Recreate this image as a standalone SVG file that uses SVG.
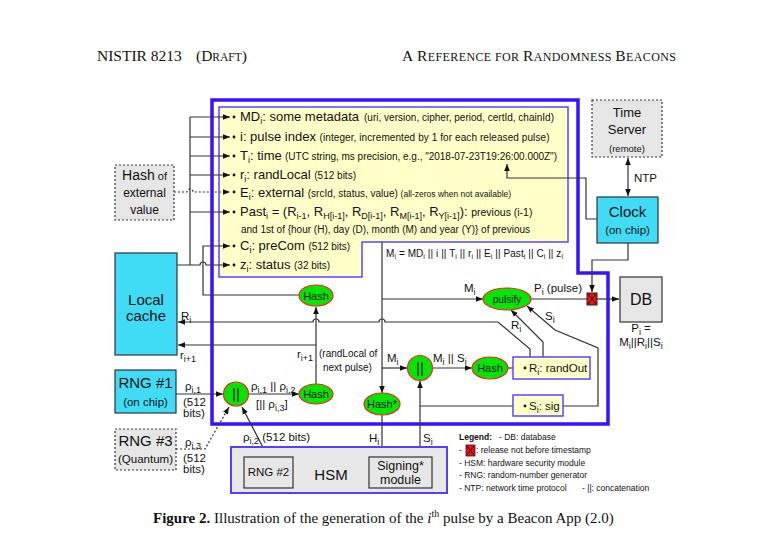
<svg xmlns="http://www.w3.org/2000/svg" width="777" height="551" viewBox="0 0 777 551">
<style>
text{font-family:"Liberation Sans",Arial,sans-serif;fill:#111}
.serif{font-family:"Liberation Serif","Times New Roman",serif}
.t13{font-size:13px}.t10{font-size:10px}.t9{font-size:8.5px}.t11{font-size:11.5px}
.sb{font-size:9px}
.mid{text-anchor:middle}
.ln{fill:none;stroke:#333;stroke-width:1.2}
.dot{stroke-dasharray:2 2}
.arr{marker-end:url(#ah)}
.cyan{fill:#40dcf6;stroke:#333;stroke-width:1.2}
.gray{fill:#e6e6e6;stroke:#333;stroke-width:1.2}
.dgray{fill:#e6e6e6;stroke:#333;stroke-width:1.2;stroke-dasharray:2 2}
.grn{fill:#00e600;stroke:#ff2020;stroke-width:1.2}
.yb{fill:#ffffc8;stroke:#5b46ff;stroke-width:1.5}
</style>
<defs>
<marker id="ah" viewBox="0 0 10 10" refX="10" refY="5" markerWidth="7" markerHeight="7" markerUnits="userSpaceOnUse" orient="auto-start-reverse"><path d="M0,1 L10,5 L0,9 z" fill="#111"/></marker>
</defs>
<rect width="777" height="551" fill="#fff"/>

<g id="header">
<text class="serif" x="97" y="61" font-size="15.5">NISTIR 8213</text>
<text class="serif" x="196" y="61" font-size="15.5">(D<tspan font-size="11.5">RAFT</tspan>)</text>
<text class="serif" x="402" y="61" font-size="15.5" textLength="274" lengthAdjust="spacing">A R<tspan font-size="12">EFERENCE FOR </tspan>R<tspan font-size="12">ANDOMNESS </tspan>B<tspan font-size="12">EACONS</tspan></text>
</g>

<g id="frame">
<path d="M212,100 H578 V273 H608 V424 H212 Z" fill="none" stroke="#3b10ff" stroke-width="3.5"/>
</g>

<g id="pulse-fields">
<path class="yb" d="M219,107 H568 V242 H362 V277 H219 Z" stroke-width="1"/>
<g fill="#111">
<circle cx="234" cy="117" r="1.4"/><circle cx="234" cy="137" r="1.4"/><circle cx="234" cy="156" r="1.4"/><circle cx="234" cy="175" r="1.4"/><circle cx="234" cy="192" r="1.4"/><circle cx="234" cy="212" r="1.4"/><circle cx="234" cy="246" r="1.4"/><circle cx="234" cy="265" r="1.4"/>
</g>
<text class="t13" x="240" y="121">MD<tspan class="sb" dy="3">i</tspan><tspan dy="-3">: some metadata </tspan><tspan class="t10" x="364" textLength="190">(uri, version, cipher, period, certId, chainId)</tspan></text>
<text class="t13" x="240" y="141">i: pulse index <tspan class="t10" textLength="230">(integer, incremented by 1 for each released pulse)</tspan></text>
<text class="t13" x="240" y="160">T<tspan class="sb" dy="3">i</tspan><tspan dy="-3">: time </tspan><tspan class="t10" x="285" textLength="272">(UTC string, ms precision, e.g., "2018-07-23T19:26:00.000Z")</tspan></text>
<text class="t13" x="240" y="179">r<tspan class="sb" dy="3">i</tspan><tspan dy="-3">: randLocal </tspan><tspan class="t10">(512 bits)</tspan></text>
<text class="t13" x="240" y="197">E<tspan class="sb" dy="3">i</tspan><tspan dy="-3">: external </tspan><tspan class="t10">(srcId, status, value) </tspan><tspan class="t9">(all-zeros when not available)</tspan></text>
<text class="t13" x="240" y="216">Past<tspan class="sb" dy="3">i</tspan><tspan dy="-3"> = (R</tspan><tspan class="sb" dy="3">i-1</tspan><tspan dy="-3">, R</tspan><tspan class="sb" dy="3">H[i-1]</tspan><tspan dy="-3">, R</tspan><tspan class="sb" dy="3">D[i-1]</tspan><tspan dy="-3">, R</tspan><tspan class="sb" dy="3">M[i-1]</tspan><tspan dy="-3">, R</tspan><tspan class="sb" dy="3">Y[i-1]</tspan><tspan dy="-3">): </tspan><tspan font-size="10.5">previous (i-1)</tspan></text>
<text class="t10" x="241" y="233">and 1st of {hour (H), day (D), month (M) and year (Y)} of previous</text>
<text class="t13" x="240" y="250">C<tspan class="sb" dy="3">i</tspan><tspan dy="-3">: preCom </tspan><tspan class="t10">(512 bits)</tspan></text>
<text class="t13" x="240" y="269">z<tspan class="sb" dy="3">i</tspan><tspan dy="-3">: status </tspan><tspan class="t10">(32 bits)</tspan></text>
</g>

<g id="connectors">
<path class="ln" d="M190,117 V265"/>
<path class="ln arr" d="M190,117 H230"/>
<path class="ln arr" d="M190,137 H230"/>
<path class="ln arr" d="M190,156 H230"/>
<path class="ln arr" d="M190,175 H230"/>
<path class="ln arr" d="M190,212 H230"/>
<path class="ln arr" d="M177,265 H200 a3,3 0 0 1 6,0 H230"/>
<path class="ln arr" d="M299,295 H203 V246 H230"/>
<path class="ln dot arr" d="M174,192 H187 a3,3 0 0 1 6,0 H230"/>
<path class="ln arr" d="M597,219 H586 V178 H507 V164"/>
<path class="ln arr" d="M628,158 V196" marker-start="url(#ah)"/>
<path class="ln arr" d="M628,243 V260 H592 V292"/>
<path class="ln" d="M531,299 H587"/>
<path class="ln arr" d="M597,299 H619"/>
<path class="ln arr" d="M382,242 V393"/>
<path class="ln arr" d="M382,299 H483"/>
<path class="ln arr" d="M382,368 H407"/>
<path class="ln arr" d="M432.5,368 H472"/>
<path class="ln arr" d="M508,368 H521"/>
<path class="ln arr" d="M382,415 V457"/>
<path class="ln arr" d="M420,457 V381"/>
<path class="ln arr" d="M420,406 H521"/>
<path class="ln arr" d="M563,406 H598 V348 L555,330 L527,306"/>
<path class="ln arr" d="M543,357 V342 L511,310"/>
<path class="ln arr" d="M530,357 V349 L498,322 H385 a3,3 0 0 0 -6,0 H319 a3,3 0 0 0 -6,0 H178"/>
<path class="ln arr" d="M316,384 V307"/>
<path class="ln arr" d="M316,345 H178"/>
<path class="ln arr" d="M176,394 H223"/>
<path class="ln arr" d="M248.5,394 H299"/>
<path class="ln dot arr" d="M176,449 H205 L229,407"/>
<path class="ln arr" d="M268,457 L242,407"/>
</g>

<g id="connector-labels">
<text x="386" y="257" style="font-size:10px" textLength="177">M<tspan style="font-size:7px" dy="2">i</tspan><tspan dy="-2"> = MD</tspan><tspan style="font-size:7px" dy="2">i</tspan><tspan dy="-2"> || i || T</tspan><tspan style="font-size:7px" dy="2">i</tspan><tspan dy="-2"> || r</tspan><tspan style="font-size:7px" dy="2">i</tspan><tspan dy="-2"> || E</tspan><tspan style="font-size:7px" dy="2">i</tspan><tspan dy="-2"> || Past</tspan><tspan style="font-size:7px" dy="2">i</tspan><tspan dy="-2"> || C</tspan><tspan style="font-size:7px" dy="2">i</tspan><tspan dy="-2"> || z</tspan><tspan style="font-size:7px" dy="2">i</tspan></text>
<text class="t11" x="464" y="292">M<tspan class="sb" dy="3">i</tspan></text>
<text class="t11" x="534" y="292">P<tspan class="sb" dy="3">i</tspan><tspan dy="-3"> (pulse)</tspan></text>
<text class="t11" x="511" y="329">R<tspan class="sb" dy="3">i</tspan></text>
<text class="t11" x="545" y="320">S<tspan class="sb" dy="3">i</tspan></text>
<text class="t11" x="387" y="362">M<tspan class="sb" dy="3">i</tspan></text>
<text class="t11" x="433" y="362">M<tspan class="sb" dy="3">i</tspan><tspan dy="-3"> || S</tspan><tspan class="sb" dy="3">i</tspan></text>
<text class="t11" x="181" y="320">R<tspan class="sb" dy="3">i</tspan></text>
<text class="t11" x="180" y="359">r<tspan class="sb" dy="3">i+1</tspan></text>
<text class="t11" x="297" y="358">r<tspan class="sb" dy="3">i+1</tspan></text>
<text class="t10" x="319" y="357">(randLocal of</text>
<text class="t10" x="323" y="371">next pulse)</text>
<text class="t11" x="185" y="390">ρ<tspan class="sb" dy="3">i,1</tspan></text>
<text class="t11" x="183" y="406">(512</text>
<text class="t11" x="183" y="417">bits)</text>
<text class="t11" x="185" y="446">ρ<tspan class="sb" dy="3">i,3</tspan></text>
<text class="t11" x="183" y="462">(512</text>
<text class="t11" x="183" y="473">bits)</text>
<text class="t11" x="251" y="390">ρ<tspan class="sb" dy="3">i,1</tspan><tspan dy="-3"> || ρ</tspan><tspan class="sb" dy="3">i,2</tspan></text>
<text class="t11" x="256" y="408">[|| ρ<tspan class="sb" dy="3">i,3</tspan><tspan dy="-3">]</tspan></text>
<text class="t11" x="243" y="441">ρ<tspan class="sb" dy="3">i,2</tspan><tspan dy="-3"> (512 bits)</tspan></text>
<text class="t11" x="369" y="442">H<tspan class="sb" dy="3">i</tspan></text>
<text class="t11" x="423" y="442">S<tspan class="sb" dy="3">i</tspan></text>
<text class="t11" x="634" y="182">NTP</text>
</g>

<g id="hash-external">
<rect class="dgray" x="115" y="165" width="59" height="55"/>
<text class="mid" x="144.5" y="180" font-size="14">Hash<tspan font-size="11"> of</tspan></text>
<text class="mid" x="144.5" y="197" font-size="12">external</text>
<text class="mid" x="144.5" y="214" font-size="12">value</text>
</g>

<g id="local-cache">
<rect class="cyan" x="115" y="253" width="62" height="102"/>
<text class="mid" x="146" y="304.5" font-size="15">Local</text>
<text class="mid" x="146" y="321" font-size="15">cache</text>
</g>

<g id="time-server">
<rect class="dgray" x="592" y="100" width="70" height="57"/>
<text class="mid" x="627" y="117" font-size="13">Time</text>
<text class="mid" x="627" y="134" font-size="13">Server</text>
<text class="mid" x="627" y="152" font-size="9.5">(remote)</text>
</g>

<g id="clock">
<rect class="cyan" x="597" y="197" width="61" height="46"/>
<text class="mid" x="627.5" y="216.5" font-size="15">Clock</text>
<text class="mid" x="627.5" y="234" font-size="11.5">(on chip)</text>
</g>

<g id="hash1">
<ellipse class="grn" cx="316" cy="295.5" rx="17" ry="10.5"/>
<text class="mid" x="316" y="299.5" font-size="11">Hash</text>
</g>

<g id="pulsify">
<ellipse class="grn" cx="507" cy="299" rx="24" ry="11"/>
<text class="mid" x="507" y="302.5" font-size="10">pulsify</text>
</g>

<g id="release-gate">
<rect x="587" y="293" width="10" height="12" fill="#ee1111" stroke="#222" stroke-width="1"/>
<path d="M588,294 L596,304 M596,294 L588,304" stroke="#111" stroke-width="1"/>
</g>

<g id="db">
<rect class="gray" x="620" y="277" width="42" height="45"/>
<text class="mid" x="641" y="305" font-size="16">DB</text>
<text class="mid t11" x="641" y="332">P<tspan class="sb" dy="3">i</tspan><tspan dy="-3"> =</tspan></text>
<text class="mid t11" x="641" y="346">M<tspan class="sb" dy="3">i</tspan><tspan dy="-3">||R</tspan><tspan class="sb" dy="3">i</tspan><tspan dy="-3">||S</tspan><tspan class="sb" dy="3">i</tspan></text>
</g>

<g id="concat2">
<ellipse class="grn" cx="420" cy="368" rx="12.5" ry="12.5"/>
<text class="mid" x="420" y="373" font-size="15">||</text>
</g>

<g id="hash3">
<ellipse class="grn" cx="490" cy="368" rx="18" ry="11"/>
<text class="mid" x="490" y="372" font-size="11">Hash</text>
</g>

<g id="rand-out">
<rect class="yb" x="513" y="357" width="77" height="22"/>
<circle cx="525" cy="368" r="1.4" fill="#111"/>
<text class="t11" x="529" y="372">R<tspan class="sb" dy="3">i</tspan><tspan dy="-3">: randOut</tspan></text>
</g>

<g id="sig">
<rect class="yb" x="513" y="395" width="50" height="21"/>
<circle cx="525" cy="406" r="1.4" fill="#111"/>
<text class="t11" x="529" y="410">S<tspan class="sb" dy="3">i</tspan><tspan dy="-3">: sig</tspan></text>
</g>

<g id="hash-star">
<ellipse class="grn" cx="382" cy="404" rx="18" ry="11"/>
<text class="mid" x="382" y="408" font-size="11">Hash*</text>
</g>

<g id="rng1">
<rect class="cyan" x="115" y="370" width="61" height="43"/>
<text class="mid" x="145.5" y="387.5" font-size="15">RNG #1</text>
<text class="mid" x="145.5" y="406" font-size="11.5">(on chip)</text>
</g>

<g id="concat1">
<ellipse class="grn" cx="236" cy="394" rx="12.5" ry="12"/>
<text class="mid" x="236" y="399" font-size="15">||</text>
</g>

<g id="hash2">
<ellipse class="grn" cx="316" cy="394" rx="17" ry="10"/>
<text class="mid" x="316" y="398" font-size="11">Hash</text>
</g>

<g id="rng3">
<rect class="dgray" x="115" y="429" width="61" height="41"/>
<text class="mid" x="145.5" y="445.5" font-size="15">RNG #3</text>
<text class="mid" x="145.5" y="463" font-size="11.5">(Quantum)</text>
</g>

<g id="hsm">
<rect x="231" y="447" width="216" height="46" fill="#e8e8e8" stroke="#5b3cff" stroke-width="2"/>
<text class="mid" x="331" y="480" font-size="15">HSM</text>
</g>

<g id="rng2">
<rect class="gray" x="244" y="457" width="49" height="31"/>
<text class="mid" x="268.5" y="476" font-size="11.5">RNG #2</text>
</g>

<g id="signing">
<rect class="gray" x="369" y="457" width="63" height="31"/>
<text class="mid" x="400.5" y="469.5" font-size="12.5">Signing*</text>
<text class="mid" x="400.5" y="484" font-size="12.5">module</text>
</g>

<g id="legend">
<text class="t9" x="459" y="440" font-weight="bold">Legend:</text>
<text class="t9" x="499" y="440">- DB: database</text>
<text class="t9" x="459" y="453">- </text>
<rect x="466" y="445" width="9" height="11" fill="#ee1111" stroke="#222" stroke-width="0.8"/>
<path d="M467,446 L474,455 M474,446 L467,455" stroke="#111" stroke-width="0.8"/>
<text class="t9" x="476" y="453">: release not before timestamp</text>
<text class="t9" x="459" y="466">- HSM: hardware security module</text>
<text class="t9" x="459" y="478">- RNG: random-number generator</text>
<text class="t9" x="459" y="491">- NTP: network time protocol</text>
<text class="t9" x="582" y="491">- ||: concatenation</text>
</g>

<g id="caption">
<text class="serif" x="153" y="523" font-size="15"><tspan font-weight="bold">Figure 2.</tspan> Illustration of the generation of the <tspan font-style="italic">i</tspan><tspan font-size="10" dy="-6">th</tspan><tspan dy="6"> pulse by a Beacon App (2.0)</tspan></text>
</g>
</svg>
